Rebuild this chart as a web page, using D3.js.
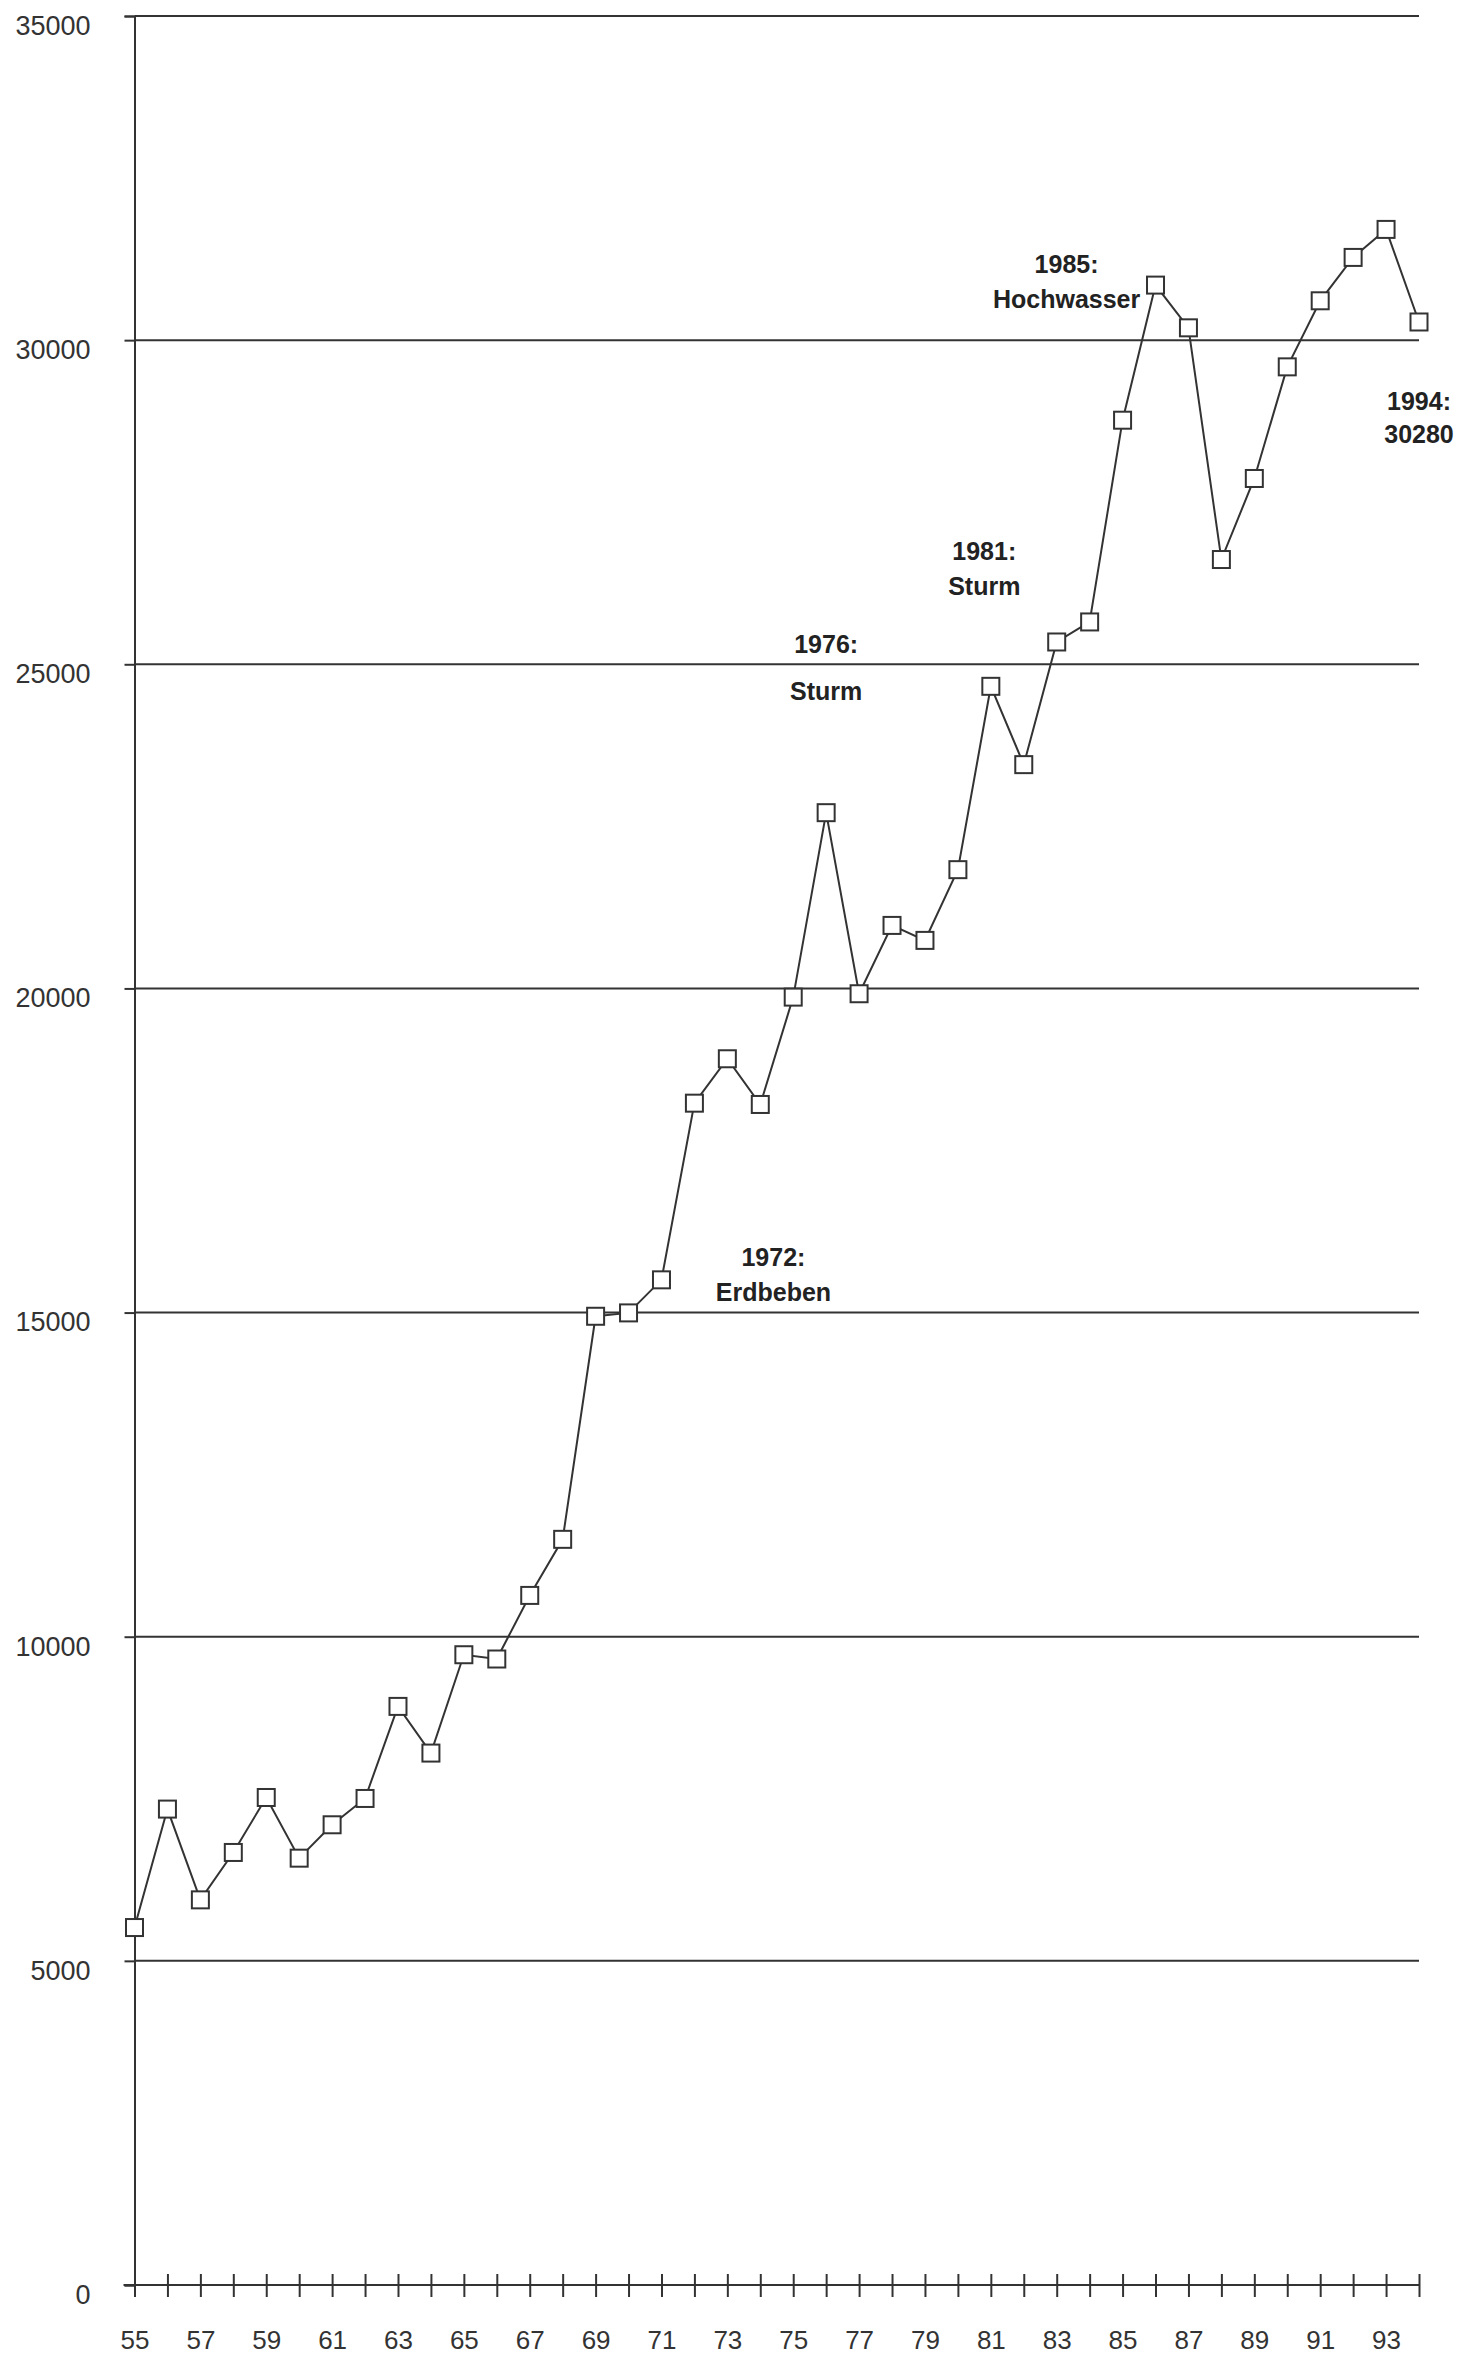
<!DOCTYPE html>
<html>
<head>
<meta charset="utf-8">
<script src="https://cdn.jsdelivr.net/npm/d3@7"></script>
<style>
  body { margin: 0; background: #fff; }
  text { font-family: "Liberation Sans", Arial, Helvetica, sans-serif; }
</style>
</head>
<body>
<svg id="chart"></svg>
<script>
// years 1955..1994 and the series
const years = [1955, 1956, 1957, 1958, 1959, 1960, 1961, 1962, 1963, 1964,
  1965, 1966, 1967, 1968, 1969, 1970, 1971, 1972, 1973, 1974,
  1975, 1976, 1977, 1978, 1979, 1980, 1981, 1982, 1983, 1984,
  1985, 1986, 1987, 1988, 1989, 1990, 1991, 1992, 1993, 1994];
const values = [5514, 7341, 5941, 6672, 7520, 6584, 7099, 7505, 8925, 8205,
  9722, 9656, 10637, 11502, 14943, 14995, 15505, 18230, 18915, 18210,
  19866, 22711, 19918, 20972, 20741, 21832, 24660, 23452, 25344, 25653,
  28765, 30849, 30190, 26616, 27866, 29588, 30607, 31276, 31708, 30280];
const yTicks = [0, 5000, 10000, 15000, 20000, 25000, 30000, 35000];
const xLabelYears = [1955, 1957, 1959, 1961, 1963, 1965, 1967, 1969, 1971, 1973,
  1975, 1977, 1979, 1981, 1983, 1985, 1987, 1989, 1991, 1993];
// annotation text, anchored in data units (year, value of first baseline)
const notes = [
  { lines: ["1972:", "Erdbeben"], year: 1974.4, value: 15725, gap: 35 },
  { lines: ["1976:", "Sturm"], year: 1976, value: 25170, gap: 47 },
  { lines: ["1981:", "Sturm"], year: 1980.8, value: 26605, gap: 35 },
  { lines: ["1985:", "Hochwasser"], year: 1983.3, value: 31039, gap: 35 },
  { lines: ["1994:", "30280"], year: 1994, value: 28920, gap: 33 },
];

const W = 1469, H = 2356;
const ink = "#333";
const svg = d3.select("#chart").attr("width", W).attr("height", H);

const x = d3.scaleLinear().domain([1955, 1994]).range([134.5, 1419]);
const y = d3.scaleLinear().domain([0, 35000]).range([2285, 16]);

// horizontal grid lines
svg.append("g")
  .selectAll("line")
  .data(yTicks.filter((d) => d > 0))
  .join("line")
  .attr("x1", x(1955))
  .attr("x2", x(1994))
  .attr("y1", (d) => y(d))
  .attr("y2", (d) => y(d))
  .attr("stroke", ink)
  .attr("stroke-width", 2);

// y axis
const yAxis = svg.append("g")
  .attr("transform", `translate(${x(1955)},0)`)
  .call(d3.axisLeft(y).tickValues(yTicks).tickSize(10).tickPadding(34)
    .tickFormat(d3.format("d")));
yAxis.select(".domain").attr("stroke", ink).attr("stroke-width", 2);
yAxis.selectAll(".tick line").attr("stroke", ink).attr("stroke-width", 2);
yAxis.selectAll(".tick text")
  .attr("dy", "0.68em")
  .attr("fill", ink)
  .style("font-size", "27px");

// x axis: ticks every year crossing the base line, labels on odd years
const xAxis = svg.append("g")
  .attr("transform", `translate(0,${y(0)})`)
  .call(d3.axisBottom(x).tickValues(years).tickSize(12).tickSizeOuter(0)
    .tickFormat((d) => (xLabelYears.includes(d) ? String(d).slice(2) : "")));
xAxis.select(".domain")
  .attr("d", `M${x(1955) - 11},0H${x(1994)}`)
  .attr("stroke", ink)
  .attr("stroke-width", 2);
xAxis.selectAll(".tick line")
  .attr("y1", -11)
  .attr("y2", 12)
  .attr("stroke", ink)
  .attr("stroke-width", 2);
xAxis.selectAll(".tick text")
  .attr("y", 64)
  .attr("dy", 0)
  .attr("fill", ink)
  .style("font-size", "26px");

// series line
const pts = years.map((yr, i) => [yr, values[i]]);
svg.append("path")
  .datum(pts)
  .attr("fill", "none")
  .attr("stroke", ink)
  .attr("stroke-width", 2)
  .attr("d", d3.line().x((d) => x(d[0])).y((d) => y(d[1])));

// open square markers
const s = 17;
svg.append("g")
  .selectAll("rect")
  .data(pts)
  .join("rect")
  .attr("x", (d) => x(d[0]) - s / 2)
  .attr("y", (d) => y(d[1]) - s / 2)
  .attr("width", s)
  .attr("height", s)
  .attr("fill", "#fff")
  .attr("stroke", ink)
  .attr("stroke-width", 2);

// annotations
const noteG = svg.append("g")
  .selectAll("text")
  .data(notes)
  .join("text")
  .attr("text-anchor", "middle")
  .attr("fill", "#222")
  .style("font-size", "25px")
  .style("font-weight", "bold");
noteG.each(function (d) {
  d3.select(this)
    .selectAll("tspan")
    .data(d.lines)
    .join("tspan")
    .attr("x", x(d.year))
    .attr("y", (t, i) => y(d.value) + i * d.gap)
    .text((t) => t);
});
</script>
</body>
</html>
